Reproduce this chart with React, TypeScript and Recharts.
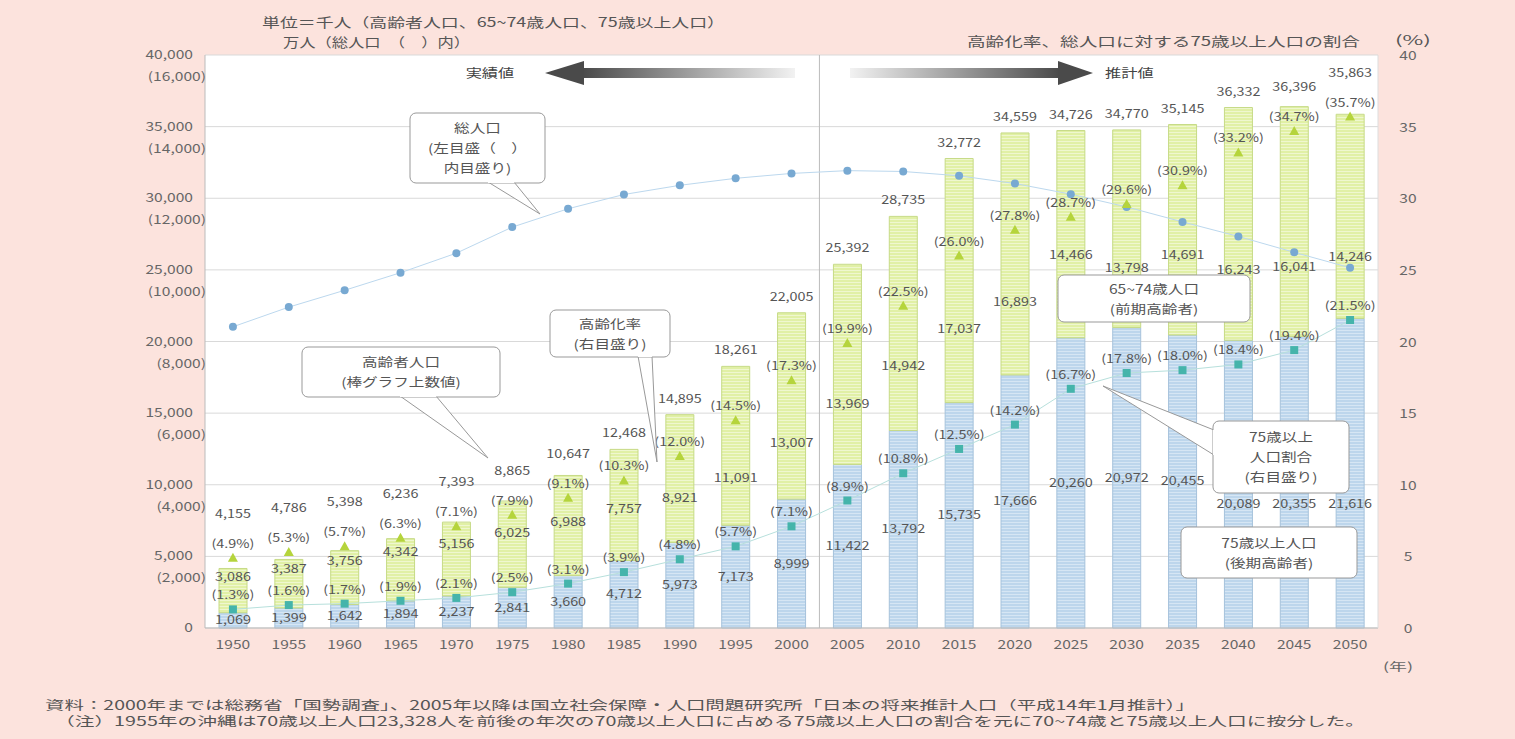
import React from 'react';
import { ComposedChart, Bar, Line, XAxis, YAxis, CartesianGrid, ReferenceLine, LabelList } from 'recharts';

const years = ['1950', '1955', '1960', '1965', '1970', '1975', '1980', '1985', '1990', '1995', '2000', '2005', '2010', '2015', '2020', '2025', '2030', '2035', '2040', '2045', '2050'];
const elderly75 = [1069, 1399, 1642, 1894, 2237, 2841, 3660, 4712, 5973, 7173, 8999, 11422, 13792, 15735, 17666, 20260, 20972, 20455, 20089, 20355, 21616];
const elderly65to74 = [3086, 3387, 3756, 4342, 5156, 6025, 6988, 7757, 8921, 11091, 13007, 13969, 14942, 17037, 16893, 14466, 13798, 14691, 16243, 16041, 14246];
const elderlyTotal = [4155, 4786, 5398, 6236, 7393, 8865, 10647, 12468, 14895, 18261, 22005, 25392, 28735, 32772, 34559, 34726, 34770, 35145, 36332, 36396, 35863];
const totalPop = [8411, 8960, 9430, 9921, 10467, 11194, 11706, 12105, 12361, 12557, 12693, 12771, 12747, 12627, 12411, 12114, 11758, 11340, 10934, 10490, 10059];
const agingRate = [4.9, 5.3, 5.7, 6.3, 7.1, 7.9, 9.1, 10.3, 12.0, 14.5, 17.3, 19.9, 22.5, 26.0, 27.8, 28.7, 29.6, 30.9, 33.2, 34.7, 35.7];
const rate75 = [1.3, 1.6, 1.7, 1.9, 2.1, 2.5, 3.1, 3.9, 4.8, 5.7, 7.1, 8.9, 10.8, 12.5, 14.2, 16.7, 17.8, 18.0, 18.4, 19.4, 21.5];
const leftTicks = [0, 5000, 10000, 15000, 20000, 25000, 30000, 35000, 40000];
const rightTicks = [0, 5, 10, 15, 20, 25, 30, 35, 40];

const data = years.map((year, i) => ({
  year,
  e75: elderly75[i],
  e6574: elderly65to74[i],
  pop: totalPop[i],
  r65: agingRate[i],
  r75: rate75[i],
}));

const FONT = '"Noto Sans CJK JP", "Noto Sans", sans-serif';
const TXT = '#555';
const fmt = (v: number) => v.toLocaleString('en-US');

// annotation boxes (layout only)
const BOXES = [
  { x: 410, y: 113, w: 135, h: 70, lines: ['総人口', '(左目盛（　）', '内目盛り)'], wedge: '488,182 540,214 514,182' },
  { x: 302, y: 347, w: 198, h: 50, lines: ['高齢者人口', '(棒グラフ上数値)'], wedge: '400,396 488,458 436,396' },
  { x: 550, y: 310, w: 120, h: 47, lines: ['高齢化率', '(右目盛り)'], wedge: '638,356 657,462 652,356' },
  { x: 1058, y: 275, w: 192, h: 47, lines: ['65~74歳人口', '(前期高齢者)'] },
  { x: 1213, y: 421, w: 136, h: 72, lines: ['75歳以上', '人口割合', '(右目盛り)'], wedge: '1214,430 1103,386 1214,455' },
  { x: 1181, y: 527, w: 176, h: 51, lines: ['75歳以上人口', '(後期高齢者)'] },
];

const SText = ({ x, y, children, anchor = 'middle', size = 11.5, fill = TXT, sx = 1.25 }: any) => (
  <text transform={`translate(${x},${y}) scale(${sx},1)`} textAnchor={anchor} fontSize={size} fill={fill} fontFamily={FONT}>{children}</text>
);

const LeftTick = (props: any) => {
  const { x, y, payload } = props;
  const v = payload.value as number;
  return (
    <g>
      <SText x={x - 4} y={y + 4} anchor="end" size={12} fill="#666" sx={1.3}>{fmt(v)}</SText>
      {v > 0 && <SText x={x + 9} y={y + 26} anchor="end" size={12} fill="#666" sx={1.3}>({fmt(v * 0.4)})</SText>}
    </g>
  );
};

const RightTick = (props: any) => {
  const { x, y, payload } = props;
  return <SText x={x + 22} y={y + 5} size={12} fill="#666" sx={1.3}>{payload.value}</SText>;
};

const XTick = (props: any) => {
  const { x, y, payload } = props;
  return <SText x={x} y={y + 13} size={12} fill="#666" sx={1.3}>{payload.value}</SText>;
};

const avoidBoxes = (cx: number, ly: number, top: number, preferAbove: boolean) => {
  const b = BOXES.find((bb) => cx + 24 > bb.x && cx - 24 < bb.x + bb.w && ly > bb.y && ly - 10 < bb.y + bb.h);
  if (!b) return ly;
  const above = b.y - 16;
  const below = b.y + b.h + 15;
  if (preferAbove && above > top + 12) return above;
  return Math.abs(above - ly) < Math.abs(below - ly) && above > top + 12 ? above : below;
};

const TopSegLabel = (props: any) => {
  const { x, y, width, height, index } = props;
  const v = elderly65to74[index];
  const per = height / v;
  const triY = y + (elderlyTotal[index] - agingRate[index] * 1000) * per;
  const cx = x + width / 2;
  const totalY = Math.min(y - 12, triY - 40);
  const frac = Math.max(0.2, Math.min(0.7, (height - 30) / 150));
  const ly = avoidBoxes(cx, y + height * frac + 4, y, true);
  return (
    <g>
      <SText x={cx} y={ly}>{fmt(v)}</SText>
      <SText x={cx} y={totalY}>{fmt(elderlyTotal[index])}</SText>
    </g>
  );
};

const BottomSegLabel = (props: any) => {
  const { x, y, width, height, index } = props;
  const cx = x + width / 2;
  const ly = avoidBoxes(cx, y + height / 2 + 4, y, false);
  return <SText x={cx} y={ly}>{fmt(elderly75[index])}</SText>;
};

const PctLabel = (props: any) => {
  const { x, y, value } = props;
  return <SText x={x} y={y - 10}>({Number(value).toFixed(1)}%)</SText>;
};

const TriDot = (p: any) => {
  const { cx, cy, index } = p;
  if (cx == null || cy == null) return <g key={`t-${index}`} />;
  return <path key={`t-${index}`} d={`M${cx},${cy - 5} L${cx + 5},${cy + 4} L${cx - 5},${cy + 4} Z`} fill="#b5d43c" />;
};

const SqDot = (p: any) => {
  const { cx, cy, index } = p;
  if (cx == null || cy == null) return <g key={`s-${index}`} />;
  return <rect key={`s-${index}`} x={cx - 4} y={cy - 4} width={8} height={8} fill="#45b4ab" />;
};

const CircDot = (p: any) => {
  const { cx, cy, index } = p;
  if (cx == null || cy == null) return <g key={`c-${index}`} />;
  return <circle key={`c-${index}`} cx={cx} cy={cy} r={4} fill="#78a9d2" />;
};

const Callout = ({ x, y, w, h, lines, wedge }: { x: number; y: number; w: number; h: number; lines: string[]; wedge?: string }) => {
  const cx = x + w / 2;
  const lh = 20;
  const start = y + h / 2 - ((lines.length - 1) * lh) / 2 + 5;
  const pts = wedge ? wedge.split(' ').map((s) => s.split(',').map(Number)) : null;
  return (
    <g>
      {wedge && <polygon points={wedge} fill="#fff" stroke="#999" strokeWidth={1} />}
      <rect x={x} y={y} width={w} height={h} rx={6} fill="#fff" stroke="#999" strokeWidth={1} />
      {pts && <line x1={pts[0][0]} y1={pts[0][1]} x2={pts[2][0]} y2={pts[2][1]} stroke="#fff" strokeWidth={2} />}
      {lines.map((t, i) => (
        <SText key={i} x={cx} y={start + i * lh} size={12.5} fill="#555" sx={1.25}>{t}</SText>
      ))}
    </g>
  );
};

export default function App() {
  const W = 1515;
  const H = 739;
  return (
    <div style={{ position: 'absolute', left: 0, top: 0, width: W, height: H, background: '#fce3dd', overflow: 'hidden' }}>
      <svg width={0} height={0} style={{ position: 'absolute' }}>
        <defs>
          <pattern id="pBlue" width="6" height="3" patternUnits="userSpaceOnUse">
            <rect width="6" height="3" fill="#bdd6ec" />
            <rect width="6" height="1" fill="#d6e6f4" />
          </pattern>
          <pattern id="pYellow" width="6" height="3" patternUnits="userSpaceOnUse">
            <rect width="6" height="3" fill="#e1f0a6" />
            <rect width="6" height="1" fill="#eff7cf" />
          </pattern>
          <linearGradient id="gLeft" x1="0" x2="1" y1="0" y2="0">
            <stop offset="0" stopColor="#4a4a4a" />
            <stop offset="1" stopColor="#f2f2f2" />
          </linearGradient>
          <linearGradient id="gRight" x1="0" x2="1" y1="0" y2="0">
            <stop offset="0" stopColor="#f2f2f2" />
            <stop offset="1" stopColor="#4a4a4a" />
          </linearGradient>
        </defs>
      </svg>
      <ComposedChart
        width={W}
        height={H}
        data={data}
        margin={{ top: 55, right: 77, left: 145, bottom: 81 }}
        barSize={28}
        style={{ fontFamily: FONT }}
      >
        <CartesianGrid vertical={false} stroke="#d9d9d9" fill="#ffffff" yAxisId="left" />
        <XAxis dataKey="year" height={30} tickLine={false} axisLine={{ stroke: '#bbb' }} tick={<XTick />} interval={0} />
        <YAxis yAxisId="left" width={60} domain={[0, 40000]} ticks={leftTicks} tickLine={false} axisLine={{ stroke: '#bbb' }} tick={<LeftTick />} interval={0} />
        <YAxis yAxisId="right" orientation="right" width={60} domain={[0, 40]} ticks={rightTicks} tickLine={false} axisLine={{ stroke: '#ddd' }} tick={<RightTick />} interval={0} />
        <YAxis yAxisId="pop" hide domain={[0, 16000]} />
        <ReferenceLine yAxisId="left" x="2005" position="start" stroke="#bbb" strokeWidth={1} />
        <Bar yAxisId="left" dataKey="e75" stackId="a" fill="url(#pBlue)" stroke="#a6c2db" strokeWidth={1} isAnimationActive={false}>
          <LabelList dataKey="e75" content={<BottomSegLabel />} />
        </Bar>
        <Bar yAxisId="left" dataKey="e6574" stackId="a" fill="url(#pYellow)" stroke="#c6da86" strokeWidth={1} isAnimationActive={false}>
          <LabelList dataKey="e6574" content={<TopSegLabel />} />
        </Bar>
        <Line yAxisId="pop" dataKey="pop" stroke="#bcd8ee" strokeWidth={1} dot={CircDot} activeDot={false} isAnimationActive={false} />
        <Line yAxisId="right" dataKey="r75" stroke="#b7e0dc" strokeWidth={1} dot={SqDot} activeDot={false} isAnimationActive={false}>
          <LabelList dataKey="r75" content={<PctLabel />} />
        </Line>
        <Line yAxisId="right" dataKey="r65" stroke="transparent" strokeWidth={0} dot={TriDot} activeDot={false} isAnimationActive={false}>
          <LabelList dataKey="r65" content={<PctLabel />} />
        </Line>
      </ComposedChart>
      <svg width={W} height={H} style={{ position: 'absolute', left: 0, top: 0, pointerEvents: 'none' }} fontFamily={FONT}>
        <text x={262} y={27} fontSize={13} fill="#555" textLength={463} lengthAdjust="spacingAndGlyphs">単位＝千人（高齢者人口、65~74歳人口、75歳以上人口）</text>
        <text x={283} y={47} fontSize={13} fill="#555" textLength={187} lengthAdjust="spacingAndGlyphs">万人（総人口　（　）内）</text>
        <text x={967} y={46} fontSize={13} fill="#555" textLength={393} lengthAdjust="spacingAndGlyphs">高齢化率、総人口に対する75歳以上人口の割合</text>
        <text x={1395} y={45} fontSize={13} fill="#555" textLength={36} lengthAdjust="spacingAndGlyphs">(%)</text>
        <text x={1383} y={671} fontSize={11.5} fill="#666" textLength={30} lengthAdjust="spacingAndGlyphs">(年)</text>

        <SText x={490} y={78} size={12.5} fill="#444" sx={1.3}>実績値</SText>
        <rect x={582} y={68} width={213} height={10} fill="url(#gLeft)" />
        <polygon points="545,73 584,61 584,85" fill="#4a4a4a" />
        <SText x={1105} y={78} size={12.5} fill="#444" sx={1.3} anchor="start">推計値</SText>
        <rect x={850} y={68} width={210} height={10} fill="url(#gRight)" />
        <polygon points="1093,73 1058,61 1058,85" fill="#4a4a4a" />

        {BOXES.map((b, i) => (
          <Callout key={i} x={b.x} y={b.y} w={b.w} h={b.h} lines={b.lines} wedge={b.wedge} />
        ))}

        <text x={45} y={710} fontSize={12.5} fill="#555" textLength={1150} lengthAdjust="spacingAndGlyphs">資料：2000年までは総務省「国勢調査」、2005年以降は国立社会保障・人口問題研究所「日本の将来推計人口（平成14年1月推計）」</text>
        <text x={55} y={726} fontSize={12.5} fill="#555" textLength={1310} lengthAdjust="spacingAndGlyphs">（注）1955年の沖縄は70歳以上人口23,328人を前後の年次の70歳以上人口に占める75歳以上人口の割合を元に70~74歳と75歳以上人口に按分した。</text>
      </svg>
    </div>
  );
}
